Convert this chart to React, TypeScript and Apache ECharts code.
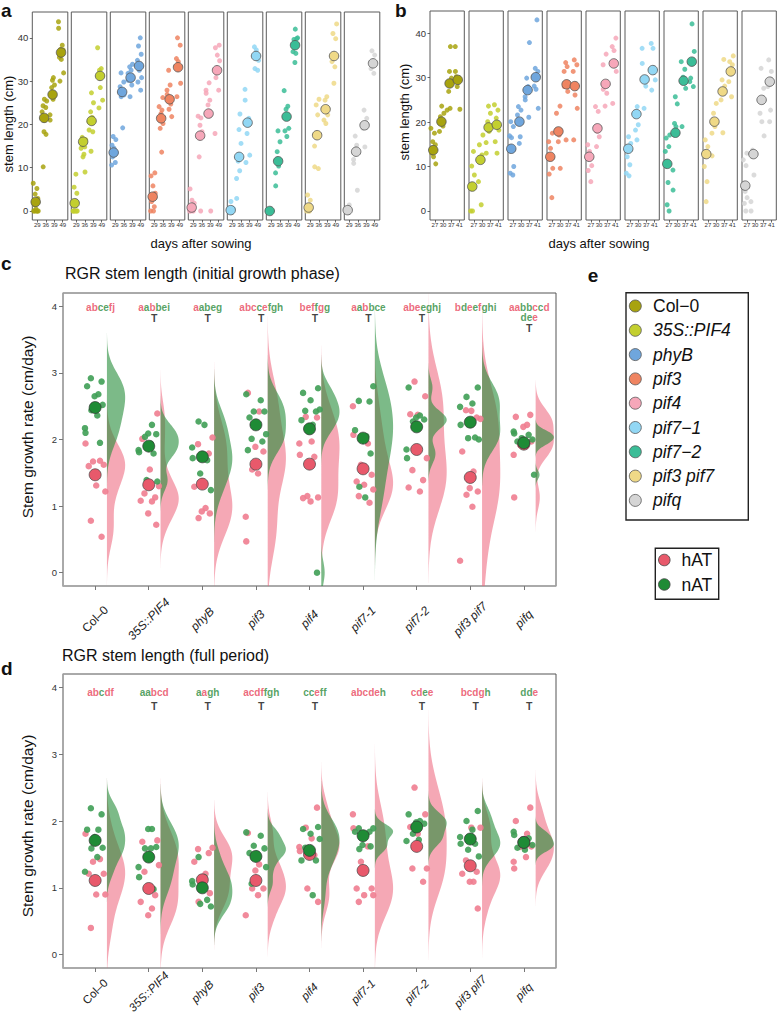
import React, { useEffect, useRef } from "react";
import * as echarts from "echarts";

const FONT = "'Liberation Sans', Arial, Helvetica, sans-serif";

// ---------- categories ----------
const GENOTYPES = ["Col–0", "35S::PIF4", "phyB", "pif3", "pif4", "pif7-1", "pif7-2", "pif3 pif7", "pifq"];
const LEGEND_LABELS = ["Col−0", "35S::PIF4", "phyB", "pif3", "pif4", "pif7−1", "pif7−2", "pif3 pif7", "pifq"];
const GENO_COLORS = ["#a8a30f", "#c3cf2f", "#6fa6dd", "#ef8461", "#f6a7b9", "#92d7f4", "#3bbd97", "#efd987", "#d5d5d5"];
const DAYS_A = ["29", "36", "39", "49"];
const DAYS_B = ["27", "30", "37", "41"];
const STEM_TICKS = [0, 10, 20, 30, 40];
const RATE_TICKS = [0, 1, 2, 3, 4];
const TREATMENTS = ["hAT", "nAT"];

// ---------- panel a : stem length (cm) per day ----------
const aCol0 = [[6.4, 5.2, 3.9, 2.9, 1.5, 0.5, 0, 0, 0, 0, 0], [25.8, 25.4, 24.3, 23.9, 22.9, 21, 18.3, 17.7, 10.2], [30.8, 30.2, 29.1, 28.5, 25.8, 22.2, 21, 26.5], [43.7, 42.2, 38.3, 37.3, 37.2, 35.5, 35, 31.9, 30]];
const a35S = [[8.5, 5.5, 4.1, 0, 0, 0, 0, 0], [16.5, 15.2, 14.8, 14.5, 13.1, 12.5, 9, 17], [27.3, 25, 22.9, 21.6, 20.6, 18.7, 18.3, 13.8], [37.7, 32.9, 32.5, 31.4, 31, 28.5, 25.6, 23.8]];
const aPhyB = [[17.2, 16.5, 15.2, 14.5, 13.5, 12.5, 11.2, 10.6], [31.9, 29.8, 28.7, 27.9, 27.5, 26.8, 26.4, 19.2], [33.9, 33.3, 32.5, 31.8, 30.2, 29.1, 26.4], [40, 38.1, 36.2, 34.8, 32.5, 30.8, 29.8, 27.9]];
const aPif3 = [[8.8, 8.1, 5.8, 4.1, 2.2, 1, 0, 0], [26.2, 24.1, 23.3, 22.5, 20.2, 19.1, 13.6], [32.5, 29.1, 27.9, 26.9, 24.7, 23.5, 21.8], [40, 38.3, 35.2, 34.5, 29.5, 26.4]];
const aPif4 = [[5.1, 2.5, 1.8, 0, 0, 0], [21.9, 21.5, 19.8, 18.3, 12.5, 0], [29.6, 27.9, 27.2, 25.6, 24.5, 0], [38.3, 37.7, 36, 34.7, 30.8, 27.9, 17.9]];
const aPif71 = [[2.2, 0.6, 0, 0], [22.4, 18.8, 15.6, 11.5, 9.3, 7.5, 2.9], [28.1, 25.6, 21.4, 17.9, 12.9, 11.2], [37.9, 37.2, 34.8, 32.9, 32.5]];
const aPif72 = [[0, 0, 0, 0.3], [18.5, 16, 13.7, 10.4, 8.8, 5.8], [27.8, 24.2, 23.5, 19.1, 18.5, 17.2], [42, 40, 39.6, 39.8, 36.8, 36.4, 34.3]];
const aPif37 = [[3.7, 2.5, 0, 0, 0], [25.8, 24.5, 22.2, 15, 10.2, 9.8], [26.4, 25.6, 22.2, 21, 20.2], [43.2, 41, 39.8, 34.5, 33.3, 29.5]];
const aPifq = [[1.4, 0.4, 0], [17.3, 15.2, 11.9, 11, 4.8], [23.3, 21.4, 19.1, 14.8], [37, 36, 32.9, 31.8]];
const aMeans = [[2.1, 21.5, 26.9, 36.6], [1.8, 16, 20.8, 31.2], [13.5, 27.5, 30.8, 33.5], [3.3, 21.4, 25.8, 33.2], [0.8, 17.4, 22.5, 32.5], [0.2, 12.5, 20.4, 35.8], [0, 11.5, 21.8, 38.3], [0.8, 17.5, 23.5, 35.8], [0.2, 13.7, 19.8, 34.1]];

// ---------- panel b : stem length (cm) per day ----------
const bCol0 = [[18.6, 17.5, 15.6, 14.9, 13, 12.2, 10.6], [23.6, 22, 21.2, 19.1, 17.9], [37, 31.4, 29.9, 26.9, 23.1, 22.7], [37, 31.4, 29.9, 28, 22.9, 30.2]];
const b35S = [[13.4, 10.1, 8.1, 0, 0], [17.1, 14.9, 12.6, 6.6, 1.4], [23.6, 22, 20.1, 17.9, 15.4, 13], [23.9, 22.7, 20.9, 18.2, 15.6, 13]];
const bPhyB = [[20.1, 19, 16.9, 16.5, 10, 8.5, 8.1], [23.5, 22.7, 21.6, 16.7, 15.2], [37.9, 29.9, 28, 25.7, 25, 21.1], [43, 32.1, 31.4, 28.1, 27.4, 23.1]];
const bPif3 = [[17.5, 15.6, 14.1, 9.6, 8.3, 3], [23.6, 22, 17.1, 15.6, 9.6], [33.4, 32.5, 31.4, 28, 26.9, 16], [34, 32.9, 31.4, 26.1, 23.1, 16]];
const bPif4 = [[14.9, 13.4, 10.2, 9.1, 6.6], [23.5, 22.4, 17.9, 16.7, 14.5], [35.3, 32.9, 27.4, 26.5, 23.6], [38.9, 37, 36.1, 31.4, 24.2]];
const bPif71 = [[16.7, 15.2, 12.2, 10.4, 8.5, 7.9], [23.5, 21.6, 19.4, 18.2, 16], [36.6, 33.2, 28.1, 23.1], [37.7, 36.6, 29.5, 27.2]];
const bPif72 = [[17.1, 16.4, 14.5, 13.4, 6.4, 1.4, 0], [25.7, 24.1, 19.7, 19, 9.2, 4.7], [33.6, 31.9, 30.1, 27.6, 19], [42.1, 35.9, 29.9, 28, 29.1]];
const bPif37 = [[16, 14.5, 10, 6.6, 2.1], [24.2, 22, 19, 17.5, 12.4], [34.1, 29.5, 28.1, 25, 17.6], [34.9, 33.6, 32.9, 29.1, 25.7]];
const bPifq = [[13, 11.5, 10.2, 4.4, 3, 1.7, 0], [13.7, 8.1, 2.1, 0], [32.1, 27.6, 22, 20.1, 16.9], [34, 31.4, 28, 22.7, 20.1]];
const bMeans = [[13.7, 20.1, 28.7, 29.5], [5.5, 11.5, 18.8, 19.4], [14, 20.1, 27.2, 30.1], [12.2, 17.9, 28.5, 28.1], [12.2, 18.6, 28.6, 33.2], [14, 21.8, 29.6, 31.7], [10.6, 17.6, 29.3, 33.6], [12.8, 20.1, 26.9, 31.4], [5.7, 12.8, 25, 29.1]];

// ---------- panel c : RGR initial growth phase (cm/day) ----------
const cNAT = [
  [2.92, 2.87, 2.8, 2.68, 2.65, 2.52, 2.44, 2.36, 2.17, 2.1, 1.95],
  [2.22, 2.09, 2.08, 2.04, 1.94, 1.84, 1.81, 1.79, 1.39, 1.37],
  [2.27, 2.22, 1.88, 1.72, 1.69, 1.49, 1.24],
  [2.68, 2.59, 2.42, 2.42, 2.33, 2.2, 2.08, 2.01, 1.97, 1.84],
  [2.77, 2.7, 2.59, 2.45, 2.43, 2.42, 2.29, 2.22, 2.12, 0.0],
  [2.8, 2.58, 2.57, 2.14, 2.05, 2.03, 1.79, 1.29, 1.13],
  [2.78, 2.36, 2.33, 2.3, 2.27, 2.2, 1.85, 1.72],
  [2.78, 2.64, 2.54, 2.49, 2.22, 2.03, 2.02, 2.0],
  [2.12, 2.09, 2.07, 2.02, 2.0, 1.97, 1.92, 1.47],
];
const cHAT = [
  [1.94, 1.68, 1.67, 1.62, 1.6, 1.31, 1.22, 0.78, 0.54],
  [2.39, 2.01, 1.55, 1.3, 1.19, 1.13, 1.08, 1.07, 0.89, 0.72],
  [2.03, 1.93, 1.79, 1.29, 0.97, 0.92, 0.89, 0.82],
  [2.7, 2.42, 1.89, 1.82, 1.55, 1.49, 0.84, 0.47],
  [2.33, 2.34, 1.97, 1.94, 1.77, 1.74, 1.15, 1.13, 1.12, 1.07],
  [2.5, 2.07, 1.94, 1.62, 1.47, 1.37, 1.32, 1.25, 1.15, 1.05],
  [2.87, 2.65, 2.38, 2.37, 1.72, 1.54, 1.39, 1.28, 1.22],
  [2.43, 2.31, 2.44, 2.33, 1.82, 1.52, 1.27, 1.22, 1.17, 0.99, 0.18],
  [2.37, 2.34, 2.22, 2.19, 1.97, 1.92, 1.9, 1.77, 1.13],
];
const cNATMean = [2.48, 1.9, 1.74, 2.22, 2.16, 2.02, 2.19, 2.26, 1.95];
const cHATMean = [1.47, 1.32, 1.33, 1.63, 1.63, 1.56, 1.85, 1.43, 1.93];
const cLetters = ["abcefj", "aabbei", "aabeg", "abccefgh", "beffgg", "aabbce", "abeeghj", "bdeefghi", "aabbccd\ndee"];
const cLetterColors = ["RRGGRR", "RGRGGG", "RGGGG", "RRRGRGGG", "RRRGRG", "RGRGGG", "RRRGGGG", "RGRGRGGG", "RRGGRGR\nGGR"];
const cHasT = [false, true, true, true, true, true, true, false, true];

// ---------- panel d : RGR full period (cm/day) ----------
const dNAT = [
  [2.19, 2.1, 1.87, 1.87, 1.76, 1.6, 1.59, 1.46, 1.24],
  [1.88, 1.88, 1.61, 1.59, 1.59, 1.31, 1.16, 0.98],
  [1.46, 1.16, 1.1, 1.05, 0.82, 0.76, 0.72],
  [1.83, 1.78, 1.63, 1.59, 1.52, 1.51, 1.31, 1.06],
  [1.91, 1.88, 1.81, 1.73, 1.6, 1.41, 1.41, 0.89],
  [1.89, 1.89, 1.84, 1.84, 1.8, 1.64, 1.62, 1.58],
  [2.1, 2.0, 1.98, 1.96, 1.81, 1.72, 1.7],
  [2.15, 2.0, 1.87, 1.76, 1.66, 1.66, 1.57, 1.47],
  [1.84, 1.79, 1.74, 1.68, 1.64, 1.6, 1.57],
];
const dHAT = [
  [1.81, 1.43, 1.39, 1.21, 1.21, 0.9, 0.9, 0.4],
  [1.71, 1.69, 1.43, 1.34, 1.24, 0.89, 0.79, 0.69, 0.59],
  [1.6, 1.58, 1.52, 1.39, 1.21, 0.97, 0.92, 0.79],
  [1.82, 1.35, 1.26, 0.99, 0.99, 0.89, 0.59],
  [2.2, 1.9, 1.74, 1.61, 1.55, 1.49, 0.99, 0.79],
  [2.1, 1.89, 1.62, 1.39, 0.99, 0.99, 0.89, 0.89, 0.79],
  [2.5, 2.1, 1.91, 1.81, 1.29, 1.29, 1.09],
  [1.9, 1.9, 1.41, 1.24, 1.21, 1.09, 1.09, 0.69],
  [2.2, 2.0, 1.81, 1.72, 1.62, 1.61, 1.46, 1.39, 1.29],
];
const dNATMean = [1.71, 1.46, 1.0, 1.47, 1.56, 1.78, 1.91, 1.73, 1.68];
const dHATMean = [1.11, 0.99, 1.12, 1.11, 1.5, 1.26, 1.62, 1.33, 1.68];
const dLetters = ["abcdf", "aabcd", "aagh", "acdffgh", "cceff", "abcdeh", "cdee", "bcdgh", "dde"];
const dLetterColors = ["RRGRR", "GGRRR", "GRGG", "RRRRGGG", "GGRGG", "RRRRRG", "RRGR", "RRRRG", "GGR"];
const dHasT = [false, true, true, true, true, false, true, true, true];

// ---------- styling ----------
const JIT = [-0.9, 0.45, -0.2, 0.8, -0.6, 0.1, 0.95, -0.4, 0.6, -0.75, 0.3, -0.05, 0.7, -0.35, 0.2, -0.95];
const LETTER_RED = "#e8445a";
const LETTER_GREEN = "#2b8a3a";
const HAT_POINT = "#f07d90";
const NAT_POINT = "#3f9f55";
const HAT_MEAN = "#e8596b";
const NAT_MEAN = "#1f8b35";
const HAT_FILL = "rgba(236,96,120,0.55)";
const NAT_FILL = "rgba(36,140,56,0.6)";
const BW_ADJUST = 1.25;
const LINE_STEP = 10;

function kdeShape(values: number[], lo: number, hi: number): number[][] {
  const n = values.length;
  const mean = values.reduce((s, v) => s + v, 0) / n;
  const sd = Math.sqrt(values.reduce((s, v) => s + (v - mean) * (v - mean), 0) / (n - 1));
  const sorted = [...values].sort((a, b) => a - b);
  const q = (p: number) => {
    const h = (n - 1) * p;
    const f = Math.floor(h);
    const c = Math.min(f + 1, n - 1);
    return sorted[f] + (h - f) * (sorted[c] - sorted[f]);
  };
  let s = Math.min(sd, (q(0.75) - q(0.25)) / 1.34);
  if (!(s > 0)) s = sd > 0 ? sd : 1;
  const bw = BW_ADJUST * 0.9 * s * Math.pow(n, -0.2);
  const from = Math.max(sorted[0] - 3 * bw, lo);
  const to = Math.min(sorted[n - 1] + 3 * bw, hi);
  const N = 100;
  const out: number[][] = [];
  let mx = 0;
  for (let j = 0; j <= N; j++) {
    const y = from + ((to - from) * j) / N;
    let d = 0;
    for (const v of values) d += Math.exp(-0.5 * ((y - v) / bw) ** 2);
    out.push([y, d]);
    if (d > mx) mx = d;
  }
  return out.map(([y, d]) => [y, d / mx]);
}

function richLetters(text: string, mask: string) {
  let s = "";
  let k = 0;
  while (k < text.length) {
    const c = mask[k];
    let j = k;
    while (j < text.length && mask[j] === c) j++;
    s += `{${c === "R" ? "r" : "g"}|${text.slice(k, j)}}`;
    k = j;
  }
  return s;
}

const LETTER_RICH = {
  r: { color: LETTER_RED, fontSize: 10, fontWeight: "bold", fontFamily: FONT, lineHeight: 8 },
  g: { color: LETTER_GREEN, fontSize: 10, fontWeight: "bold", fontFamily: FONT, lineHeight: 8 },
  t: { color: "#111", fontSize: 10.5, fontWeight: "bold", fontFamily: FONT, lineHeight: 9 },
};

function buildOption() {
  const grids: any[] = [];
  const xAxes: any[] = [];
  const yAxes: any[] = [];
  const series: any[] = [];

  const facetPanel = (
    base: number, lefts: number, width: number, top: number, height: number,
    data: number[][][], means: number[][], days: string[], ymin: number, ymax: number
  ) => {
    for (let i = 0; i < 9; i++) {
      const g = base + i;
      grids.push({ left: lefts + i * 39, top, width, height, show: true, borderColor: "#5a5a5a", borderWidth: 1, backgroundColor: "transparent", containLabel: false, outerBoundsMode: "none" });
      xAxes.push({
        gridIndex: g, type: "value", min: -0.6, max: 3.6,
        axisLine: { show: false, onZero: false },
        axisTick: { show: true, customValues: [0, 1, 2, 3], length: 2.5, lineStyle: { color: "#444", width: 0.8 } },
        axisLabel: { show: true, customValues: [0, 1, 2, 3], formatter: (v: number) => days[Math.round(v)], fontSize: 6, color: "#333", margin: 2, fontFamily: FONT },
        splitLine: { show: false },
      });
      yAxes.push({
        gridIndex: g, type: "value", min: ymin, max: ymax,
        axisLine: { show: false, onZero: false },
        axisTick: { show: i === 0, customValues: STEM_TICKS, length: 2.5, lineStyle: { color: "#444", width: 0.8 } },
        axisLabel: { show: i === 0, customValues: STEM_TICKS, fontSize: 9.5, color: "#333", margin: 4, fontFamily: FONT },
        splitLine: { show: false },
      });
      const pts: number[][] = [];
      data[i].forEach((arr, d) => arr.forEach((v, k) => pts.push([d - 0.2 + JIT[(k + d * 5 + i) % JIT.length] * 0.32, v])));
      series.push({
        type: "scatter", xAxisIndex: g, yAxisIndex: g, data: pts, symbolSize: 5, silent: true,
        itemStyle: { color: GENO_COLORS[i], opacity: 0.85 },
      });
      series.push({
        type: "scatter", xAxisIndex: g, yAxisIndex: g, data: means[i].map((v, d) => [d - 0.2, v]), symbolSize: 9.5, silent: true,
        itemStyle: { color: GENO_COLORS[i], borderColor: "#555", borderWidth: 0.8, opacity: 1 },
      });
    }
  };

  facetPanel(0, 32.3, 35.5, 12, 208, [aCol0, a35S, aPhyB, aPif3, aPif4, aPif71, aPif72, aPif37, aPifq], aMeans, DAYS_A, -2.08, 45.96);
  facetPanel(9, 430, 34.3, 11, 209, [bCol0, b35S, bPhyB, bPif3, bPif4, bPif71, bPif72, bPif37, bPifq], bMeans, DAYS_B, -2.03, 45.0);

  const ratePanel = (
    g: number, top: number, height: number, hat: number[][], nat: number[][], hatMean: number[], natMean: number[],
    letters: string[], masks: string[], hasT: boolean[], letterY: number, tOff: number, labelMargin: number, labelSize: number
  ) => {
    const YMIN = -0.2, YMAX = 4.2;
    grids.push({ left: 63, top, width: 493, height, show: true, borderColor: "#555", borderWidth: 1, backgroundColor: "transparent", containLabel: false, outerBoundsMode: "none" });
    xAxes.push({
      gridIndex: g, type: "value", min: -0.6, max: 8.6,
      axisLine: { show: true, onZero: false, lineStyle: { color: "#aaa", width: 1.5 } },
      axisTick: { show: true, customValues: [0, 1, 2, 3, 4, 5, 6, 7, 8], length: 4, lineStyle: { color: "#777", width: 1 } },
      axisLabel: {
        show: true, customValues: [0, 1, 2, 3, 4, 5, 6, 7, 8], rotate: 45, align: "center", verticalAlign: "middle", margin: labelMargin,
        formatter: (v: number) => {
          const i = Math.round(v);
          return i === 0 ? `{n|${GENOTYPES[i]}}` : `{it|${GENOTYPES[i]}}`;
        },
        rich: {
          n: { fontSize: labelSize, color: "#222", fontFamily: FONT },
          it: { fontSize: labelSize, color: "#222", fontStyle: "italic", fontFamily: FONT },
        },
      },
      splitLine: { show: false },
    });
    yAxes.push({
      gridIndex: g, type: "value", min: YMIN, max: YMAX,
      axisLine: { show: true, onZero: false, lineStyle: { color: "#aaa", width: 1.5 } },
      axisTick: { show: true, customValues: RATE_TICKS, length: 4, lineStyle: { color: "#777", width: 1 } },
      axisLabel: { show: true, customValues: RATE_TICKS, fontSize: 9.5, color: "#333", margin: 6, fontFamily: FONT },
      splitLine: { show: false },
    });

    const groups = [
      { vals: hat, fill: HAT_FILL },
      { vals: nat, fill: NAT_FILL },
    ];
    groups.forEach((grp) => {
      const shapes = grp.vals.map((v) => kdeShape(v, YMIN, YMAX));
      series.push({
        type: "custom", xAxisIndex: g, yAxisIndex: g, silent: true,
        data: GENOTYPES.map((_, i) => [i, 1]), encode: { x: 0, y: 1 },
        renderItem: (params: any, api: any) => {
          const i = params.dataIndex;
          const sh = shapes[i];
          const x0 = i + 0.22;
          const W = 0.34;
          const pts = [api.coord([x0, sh[0][0]])];
          sh.forEach(([y, d]) => pts.push(api.coord([x0 + W * d, y])));
          pts.push(api.coord([x0, sh[sh.length - 1][0]]));
          return { type: "polygon", shape: { points: pts }, style: { fill: grp.fill, lineWidth: 0 } };
        },
      });
    });

    const pointData = (vals: number[][], phase: number) => {
      const out: number[][] = [];
      vals.forEach((arr, i) => arr.forEach((v, k) => out.push([i + JIT[(k + phase + i * 3) % JIT.length] * 0.2, v])));
      return out;
    };
    series.push({ type: "scatter", name: TREATMENTS[0], xAxisIndex: g, yAxisIndex: g, data: pointData(hat, 0), symbolSize: 6.5, silent: true, itemStyle: { color: HAT_POINT, opacity: 0.9 } });
    series.push({ type: "scatter", name: TREATMENTS[1], xAxisIndex: g, yAxisIndex: g, data: pointData(nat, 7), symbolSize: 6.5, silent: true, itemStyle: { color: NAT_POINT, opacity: 0.9 } });
    series.push({ type: "scatter", xAxisIndex: g, yAxisIndex: g, data: hatMean.map((v, i) => [i, v]), symbolSize: 12, silent: true, itemStyle: { color: HAT_MEAN, borderColor: "#444", borderWidth: 0.7, opacity: 1 } });
    series.push({ type: "scatter", xAxisIndex: g, yAxisIndex: g, data: natMean.map((v, i) => [i, v]), symbolSize: 12, silent: true, itemStyle: { color: NAT_MEAN, borderColor: "#333", borderWidth: 0.7, opacity: 1 } });

    const items: any[] = [];
    letters.forEach((txt, i) => {
      const lines = txt.split("\n");
      const ms = masks[i].split("\n");
      lines.forEach((ln, k) => items.push({ value: [i + 0.1, letterY], label: { formatter: richLetters(ln, ms[k]), offset: [0, k * LINE_STEP] } }));
      if (hasT[i]) items.push({ value: [i + 0.1, letterY], label: { formatter: "{t|T}", offset: [0, tOff + (lines.length - 1) * LINE_STEP] } });
    });
    series.push({
      type: "scatter", xAxisIndex: g, yAxisIndex: g, data: items, symbolSize: 1, silent: true,
      itemStyle: { color: "rgba(0,0,0,0)" },
      label: { show: true, position: "inside", rich: LETTER_RICH, fontSize: 10, lineHeight: 8, fontFamily: FONT },
    });
  };

  ratePanel(18, 293, 293, cHAT, cNAT, cHATMean, cNATMean, cLetters, cLetterColors, cHasT, 3.98, 10, 33, 12);
  ratePanel(19, 674, 294, dHAT, dNAT, dHATMean, dNATMean, dLetters, dLetterColors, dHasT, 3.92, 13, 23.5, 11.5);

  const txt = (text: string, x: number, y: number, size: number, opts: any = {}) => ({
    type: "text", x, y, rotation: opts.rotation || 0, silent: true,
    style: {
      text, fontSize: size, fontFamily: FONT, fontWeight: opts.weight || "normal", fontStyle: opts.style || "normal",
      fill: opts.color || "#111",
      align: opts.align || "center", textAlign: opts.align || "center",
      verticalAlign: "middle", textVerticalAlign: "middle",
    },
  });

  const graphic: any[] = [
    txt("a", 1, 10.5, 19, { weight: "bold", align: "left" }),
    txt("b", 395, 10.5, 19, { weight: "bold", align: "left" }),
    txt("c", 1, 263, 19, { weight: "bold", align: "left" }),
    txt("d", 1, 668, 19, { weight: "bold", align: "left" }),
    txt("e", 593, 275, 19, { weight: "bold" }),
    txt("stem length (cm)", 8.5, 124, 13, { rotation: Math.PI / 2 }),
    txt("stem length (cm)", 404, 112, 13, { rotation: Math.PI / 2 }),
    txt("days after sowing", 201, 243, 13),
    txt("days after sowing", 599, 243, 13),
    txt("RGR stem length (initial growth phase)", 65, 273, 16, { align: "left" }),
    txt("RGR stem length (full period)", 62, 655, 16, { align: "left" }),
    txt("Stem growth rate (cm/day)", 27, 427, 15.5, { rotation: Math.PI / 2 }),
    txt("Stem growth rate (cm/day)", 27, 826, 15.5, { rotation: Math.PI / 2 }),
    { type: "rect", shape: { x: 626, y: 292.7, width: 122.3, height: 227.3 }, style: { fill: "none", stroke: "#222", lineWidth: 1.4 }, silent: true },
    { type: "rect", shape: { x: 655.3, y: 548.3, width: 63.4, height: 51 }, style: { fill: "none", stroke: "#222", lineWidth: 1.4 }, silent: true },
  ];
  LEGEND_LABELS.forEach((name, i) => {
    const y = 306 + i * 24.3;
    graphic.push({ type: "circle", shape: { cx: 635.3, cy: y, r: 6 }, style: { fill: GENO_COLORS[i], stroke: "#555", lineWidth: 0.8 }, silent: true });
    graphic.push(txt(name, 653, y, 17.5, { align: "left", style: i === 0 ? "normal" : "italic" }));
  });
  [HAT_MEAN, NAT_MEAN].forEach((c, k) => {
    const y = 560 + k * 24.5;
    graphic.push({ type: "circle", shape: { cx: 664.3, cy: y, r: 5.8 }, style: { fill: c, stroke: "#444", lineWidth: 0.8 }, silent: true });
    graphic.push(txt(TREATMENTS[k], 681.5, y, 17.5, { align: "left" }));
  });

  return {
    animation: false,
    backgroundColor: "#fff",
    textStyle: { fontFamily: FONT },
    grid: grids,
    xAxis: xAxes,
    yAxis: yAxes,
    series,
    graphic,
  };
}

export default function App() {
  const ref = useRef<HTMLDivElement>(null);
  useEffect(() => {
    const chart = echarts.init(ref.current as HTMLDivElement, undefined, { renderer: "svg" });
    chart.setOption(buildOption() as any);
    return () => chart.dispose();
  }, []);
  return <div ref={ref} style={{ position: "absolute", left: 0, top: 0, width: 778, height: 1015, background: "#fff" }} />;
}
